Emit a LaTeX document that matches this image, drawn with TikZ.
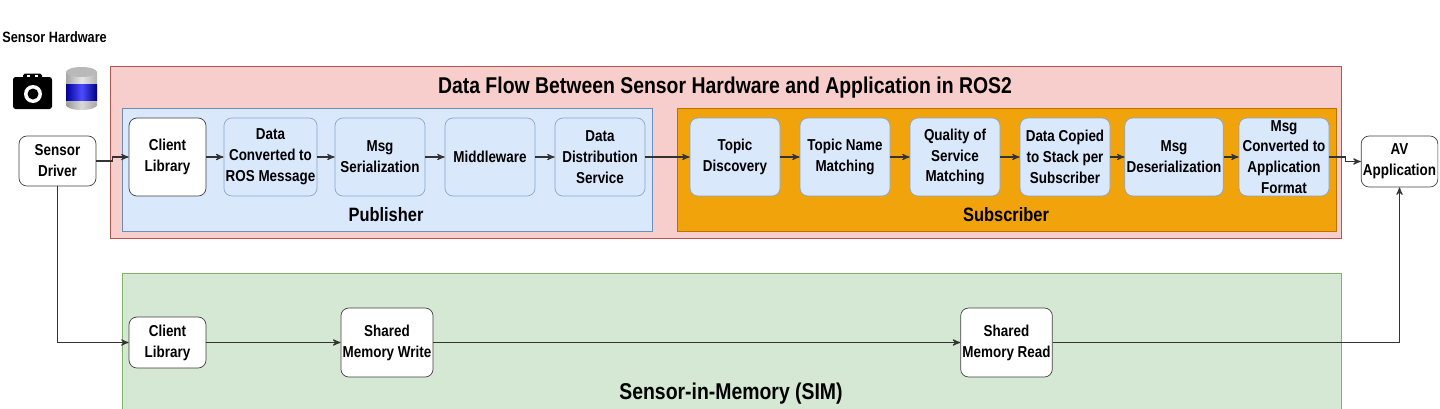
\documentclass[tikz,border=0pt]{standalone}
\usepackage{fontspec}
\setmainfont{Liberation Sans}[FakeStretch=0.85]
\usetikzlibrary{arrows,positioning}
\definecolor{rosfill}{HTML}{F8CECC}
\definecolor{rosline}{HTML}{B85450}
\definecolor{pubfill}{HTML}{DAE8FC}
\definecolor{publine}{HTML}{6C8EBF}
\definecolor{subfill}{HTML}{F0A30A}
\definecolor{subline}{HTML}{BD7000}
\definecolor{simfill}{HTML}{D5E8D4}
\definecolor{simline}{HTML}{82B366}

\begin{document}
\begin{tikzpicture}[x=0.02cm,y=-0.02cm]
    \tikzset{wbox/.style={draw=black!75,fill=white,rounded corners=4.5pt,align=center,
        inner sep=1pt,font=\fontsize{9}{11.9}\selectfont\bfseries}}
    \tikzset{bbox/.style={wbox,draw=publine!80,fill=pubfill,minimum width=1.8cm,minimum height=1.56cm}}
    \tikzset{flow/.style={draw=black!80,line width=0.6pt,->,>=stealth'}}
    \useasboundingbox (0,0) rectangle (1440,409);
    % frames
    \draw[rosline,fill=rosfill] (110,66) rectangle (1341,238);
    \draw[publine,fill=pubfill] (122,108) rectangle (652,231);
    \draw[subline,fill=subfill] (677,108) rectangle (1336,231);
    \draw[simline,fill=simfill] (122,273) rectangle (1341,415);
    \node[font=\fontsize{13}{15}\selectfont\bfseries] (title) at (725,88) {Data Flow Between Sensor Hardware and Application in ROS2};
    \node[font=\fontsize{11}{13}\selectfont\bfseries] (pub) at (386,215) {Publisher};
    \node[font=\fontsize{11}{13}\selectfont\bfseries] (sub) at (1006,215) {Subscriber};
    \node[font=\fontsize{13}{15}\selectfont\bfseries] (sim) at (731,394) {Sensor-in-Memory (SIM)};
    \node[anchor=west,font=\fontsize{8.5}{10}\selectfont\bfseries,inner sep=0pt] (hw) at (2,37) {Sensor Hardware};
    % camera
    \fill[black,rounded corners=1.5pt] (13,77) rectangle (52,109);
    \fill[black,rounded corners=1pt] (23,73.5) rectangle (42,79);
    \fill[white] (27,74.8) rectangle (30,76.5);
    \fill[white] (35,74.8) rectangle (38,76.5);
    \fill[white] (33,94) circle (0.18cm);
    \fill[black] (33,94) circle (0.11cm);
    % lidar
    \shade[left color=gray!70,right color=gray!60,middle color=gray!20] (66,72) rectangle (97,105);
    \shade[left color=gray!80,right color=gray!70,middle color=gray!30] (81.5,105) ellipse (0.31cm and 0.1cm);
    \shade[left color=blue!60!black,right color=blue!50!black,middle color=blue!70] (66,84) rectangle (97,100);
    \fill[gray!55] (81.5,72) ellipse (0.31cm and 0.1cm);
    % top row
    \node[wbox,minimum width=1.54cm,minimum height=1.0cm] (sdrv) at (57.5,161) {Sensor\\Driver};
    \node[wbox,minimum width=1.54cm,minimum height=1.56cm] (clib) at (167.5,157) {Client\\Library};
    \node[bbox] (conv) at (270.5,157) {Data\\Converted to\\ROS Message};
    \node[bbox] (ser) at (380,157) {Msg\\Serialization};
    \node[bbox] (mw) at (490,157) {Middleware};
    \node[bbox] (dds) at (600,157) {Data\\Distribution\\Service};
    \node[bbox] (disc) at (735,157) {Topic\\Discovery};
    \node[bbox] (tnm) at (845,157) {Topic Name\\Matching};
    \node[bbox] (qos) at (955,157) {Quality of\\Service\\Matching};
    \node[bbox] (copy) at (1065,157) {Data Copied\\to Stack per\\Subscriber};
    \node[bbox] (deser) at (1174,157) {Msg\\Deserialization};
    \node[bbox] (fmt) at (1284,157) {Msg\\Converted to\\Application\\Format};
    \node[wbox,minimum width=1.52cm,minimum height=1.02cm] (av) at (1399.5,161.5) {AV\\Application};
    % bottom row
    \node[wbox,minimum width=1.54cm,minimum height=1.02cm] (clib2) at (167.5,342.5) {Client\\Library};
    \node[wbox,minimum width=1.8cm,minimum height=1.38cm] (smw) at (387,342.5) {Shared\\Memory Write};
    \node[wbox,minimum width=1.78cm,minimum height=1.38cm] (smr) at (1006.5,342.5) {Shared\\Memory Read};
    % connectors
    \draw[flow] (sdrv.east) -- ++(16,0) |- (clib.west);
    \foreach \a/\b in {clib/conv,conv/ser,ser/mw,mw/dds,dds/disc,disc/tnm,tnm/qos,qos/copy,copy/deser,deser/fmt}
        \draw[flow] (\a) -- (\b);
    \draw[flow] (fmt.east) -- ++(16,0) |- (av.west);
    \draw[flow] (sdrv.south) |- (clib2.west);
    \draw[flow] (clib2) -- (smw);
    \draw[flow] (smw) -- (smr);
    \draw[flow] (smr.east) -| (av.south);
\end{tikzpicture}
\end{document}
